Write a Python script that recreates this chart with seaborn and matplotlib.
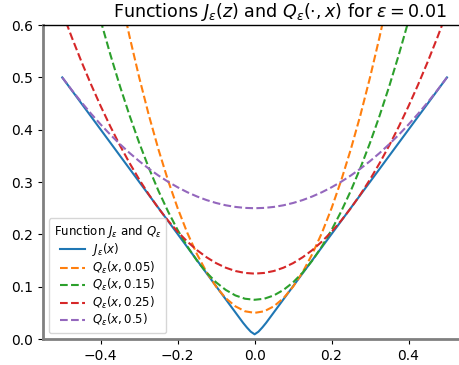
"""J_eps and its quadratic majorizers Q_eps(., x)"""

import matplotlib as mpl
import matplotlib.pyplot as plt
import pandas as pd
import seaborn as sns

mpl.use("Agg")

z = [-0.5, -0.475, -0.45, -0.425, -0.4, -0.375, -0.35, -0.325, -0.3, -0.275,
     -0.25, -0.225, -0.2, -0.175, -0.15, -0.125, -0.1, -0.075, -0.05, -0.025,
     0.0, 0.025, 0.05, 0.075, 0.1, 0.125, 0.15, 0.175, 0.2, 0.225,
     0.25, 0.275, 0.3, 0.325, 0.35, 0.375, 0.4, 0.425, 0.45, 0.475, 0.5]

# J_eps is a V with a tiny rounded tip, so it gets its own points
z_j = [-0.5, -0.03, -0.02, -0.01, 0.0, 0.01, 0.02, 0.03, 0.5]
j_eps = [0.5, 0.031, 0.022, 0.014, 0.009, 0.014, 0.022, 0.031, 0.5]

q_005 = [1.3, 1.178, 1.0625, 0.953, 0.85, 0.753, 0.6625, 0.578, 0.5, 0.428,
         0.3625, 0.303, 0.25, 0.203, 0.1625, 0.128, 0.1, 0.078, 0.0625, 0.053,
         0.05, 0.053, 0.0625, 0.078, 0.1, 0.128, 0.1625, 0.203, 0.25, 0.303,
         0.3625, 0.428, 0.5, 0.578, 0.6625, 0.753, 0.85, 0.953, 1.0625, 1.178, 1.3]

q_015 = [0.908, 0.827, 0.75, 0.677, 0.6083, 0.5438, 0.4833, 0.4271, 0.375, 0.3271,
         0.2833, 0.2438, 0.2083, 0.1771, 0.15, 0.1271, 0.1083, 0.0938, 0.0833, 0.077,
         0.075, 0.077, 0.0833, 0.0938, 0.1083, 0.1271, 0.15, 0.1771, 0.2083, 0.2438,
         0.2833, 0.3271, 0.375, 0.4271, 0.4833, 0.5438, 0.6083, 0.677, 0.75, 0.827, 0.908]

q_025 = [0.625, 0.5763, 0.53, 0.4863, 0.445, 0.4063, 0.37, 0.3363, 0.305, 0.2763,
         0.25, 0.2263, 0.205, 0.1863, 0.17, 0.1563, 0.145, 0.1363, 0.13, 0.1263,
         0.125, 0.1263, 0.13, 0.1363, 0.145, 0.1563, 0.17, 0.1863, 0.205, 0.2263,
         0.25, 0.2763, 0.305, 0.3363, 0.37, 0.4063, 0.445, 0.4863, 0.53, 0.5763, 0.625]

q_05 = [0.5, 0.4756, 0.4525, 0.4306, 0.41, 0.3906, 0.3725, 0.3556, 0.34, 0.3256,
        0.3125, 0.3006, 0.29, 0.2806, 0.2725, 0.2656, 0.26, 0.2556, 0.2525, 0.2506,
        0.25, 0.2506, 0.2525, 0.2556, 0.26, 0.2656, 0.2725, 0.2806, 0.29, 0.3006,
        0.3125, 0.3256, 0.34, 0.3556, 0.3725, 0.3906, 0.41, 0.4306, 0.4525, 0.4756, 0.5]

labels = [
    r"$J_\varepsilon(x)$",
    r"$Q_\varepsilon(x, 0.05)$",
    r"$Q_\varepsilon(x, 0.15)$",
    r"$Q_\varepsilon(x, 0.25)$",
    r"$Q_\varepsilon(x, 0.5)$",
]
series = [(z_j, j_eps), (z, q_005), (z, q_015), (z, q_025), (z, q_05)]
colors = sns.color_palette("tab10", 5)


def main() -> None:
    fig = plt.figure(figsize=(4.6, 3.65), dpi=100)
    # axes run past the right edge of the picture, as in the reference
    ax = fig.add_axes([0.0935, 0.0712, 0.92, 0.860])

    for i, (lab, (xs, vals)) in enumerate(zip(labels, series)):
        df = pd.DataFrame({"z": xs, "v": vals})
        sns.lineplot(
            data=df, x="z", y="v", ax=ax, label=lab, color=colors[i],
            linestyle="-" if i == 0 else "--", linewidth=1.5,
        )

    ax.set_xlim(-0.55, 0.55)
    ax.set_ylim(0.0, 0.6)
    ax.set_xticks([-0.4, -0.2, 0.0, 0.2, 0.4])
    ax.set_xlabel("")
    ax.set_ylabel("")
    ax.set_title(r"Functions $J_\varepsilon(z)$ and $Q_\varepsilon(\cdot, x)$ for $\varepsilon = 0.01$",
                 fontsize=12.6, x=0.56)

    for side in ("left", "bottom"):
        ax.spines[side].set_color("gray")
        ax.spines[side].set_linewidth(2)
    ax.spines["top"].set_linewidth(1)
    ax.spines["right"].set_visible(False)

    ax.legend(loc="lower left", title=r"Function $J_\varepsilon$ and $Q_\varepsilon$",
              fontsize=8.5, title_fontsize=8.5, labelspacing=0.12,
              handlelength=2.1, handletextpad=0.6)
    fig.savefig("out.png", dpi=100)


if __name__ == "__main__":
    main()
